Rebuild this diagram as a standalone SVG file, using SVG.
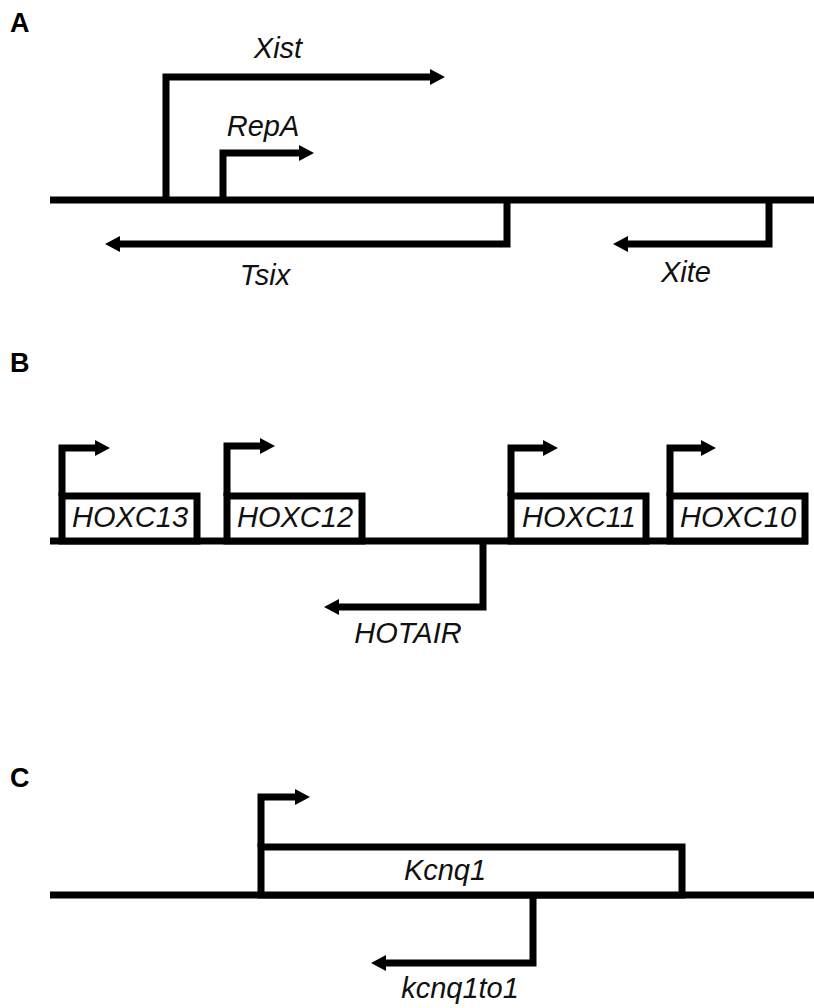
<svg xmlns="http://www.w3.org/2000/svg" width="814" height="1008" viewBox="0 0 814 1008">
<style>
.ln{fill:none;stroke:#000;stroke-width:7;stroke-linejoin:miter;stroke-linecap:butt}
.box{fill:#fff;stroke:#000;stroke-width:7}
.lbl{font-family:"Liberation Sans",Arial,sans-serif;font-style:italic;font-size:29px;fill:#111;text-anchor:middle}
.pl{font-family:"Liberation Sans",Arial,sans-serif;font-weight:bold;font-size:27px;fill:#000}
</style>
<defs>
<marker id="ah" viewBox="0 0 15 16" markerWidth="15" markerHeight="16" refX="1" refY="8" orient="auto" markerUnits="userSpaceOnUse">
<path d="M0,0 L15,8 L0,16 Z" fill="#000"/>
</marker>
</defs>
<rect width="814" height="1008" fill="#fff"/>

<g id="panelA">
<text class="pl" x="10" y="32">A</text>
<g id="A-backbone"><line class="ln" x1="50" y1="200" x2="814" y2="200"/></g>
<g id="Xist"><text class="lbl" x="278" y="58">Xist</text></g>
<g id="RepA"><text class="lbl" x="263" y="136">RepA</text></g>
<g id="Tsix"><text class="lbl" x="265" y="285">Tsix</text></g>
<g id="Xite"><text class="lbl" x="686" y="282">Xite</text></g>
</g>

<g id="panelB">
<text class="pl" x="10" y="372">B</text>
<g id="B-backbone"><line class="ln" x1="50" y1="541" x2="808" y2="541"/></g>
<g id="HOXC13"><rect class="box" x="62" y="496" width="135" height="45"/><text class="lbl" x="130" y="527">HOXC13</text></g>
<g id="HOXC12"><rect class="box" x="227" y="496" width="135" height="45"/><text class="lbl" x="295" y="527">HOXC12</text></g>
<g id="HOXC11"><rect class="box" x="511" y="496" width="135" height="45"/><text class="lbl" x="579" y="527">HOXC11</text></g>
<g id="HOXC10"><rect class="box" x="670" y="496" width="135" height="45"/><text class="lbl" x="738" y="527">HOXC10</text></g>
<g id="HOTAIR"><text class="lbl" x="408" y="643">HOTAIR</text></g>
</g>

<g id="panelC">
<text class="pl" x="10" y="787">C</text>
<g id="C-backbone"><line class="ln" x1="50" y1="895" x2="814" y2="895"/></g>
<g id="Kcnq1"><rect class="box" x="261" y="847" width="421" height="48"/><text class="lbl" x="445" y="880">Kcnq1</text></g>
<g id="kcnq1to1"><text class="lbl" x="460" y="998">kcnq1to1</text></g>
</g>

<g id="connectors">
<path class="ln" d="M166,200 V77 H431" marker-end="url(#ah)"/>
<path class="ln" d="M223,200 V153 H300" marker-end="url(#ah)"/>
<path class="ln" d="M507,200 V244 H119" marker-end="url(#ah)"/>
<path class="ln" d="M769,200 V244 H627" marker-end="url(#ah)"/>
<path class="ln" d="M62,496 V448 H96" marker-end="url(#ah)"/>
<path class="ln" d="M227,496 V446 H261" marker-end="url(#ah)"/>
<path class="ln" d="M511,496 V448 H544" marker-end="url(#ah)"/>
<path class="ln" d="M670,496 V448 H702" marker-end="url(#ah)"/>
<path class="ln" d="M483,541 V607 H338" marker-end="url(#ah)"/>
<path class="ln" d="M261,847 V797 H296" marker-end="url(#ah)"/>
<path class="ln" d="M533,895 V963 H385" marker-end="url(#ah)"/>
</g>
</svg>
